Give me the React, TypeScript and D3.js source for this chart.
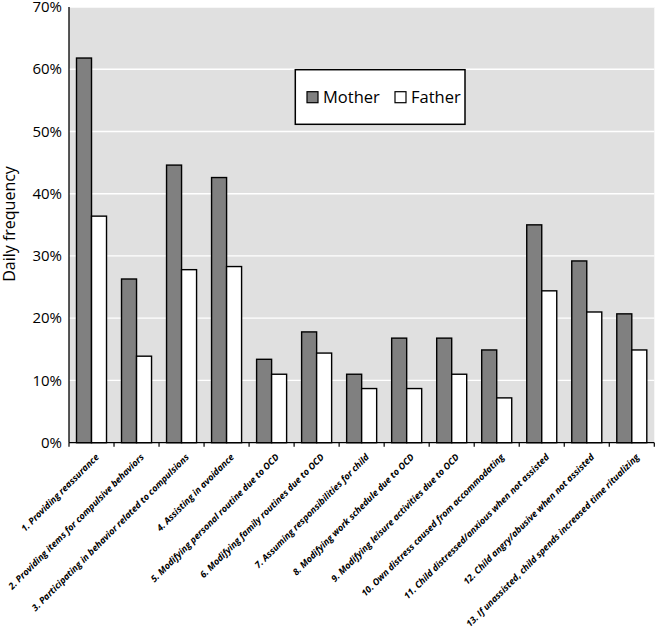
import React from "react";
import * as d3 from "d3";

const categories = [
  "1. Providing reassurance",
  "2. Providing items for compulsive behaviors",
  "3. Participating in behavior related to compulsions",
  "4. Assisting in avoidance",
  "5. Modifying personal routine due to OCD",
  "6. Modifying family routines due to OCD",
  "7. Assuming responsibilities for child",
  "8. Modifying work schedule due to OCD",
  "9. Modifying leisure activities due to OCD",
  "10. Own distress caused from accommodating",
  "11. Child distressed/anxious when not assisted",
  "12. Child angry/abusive when not assisted",
  "13. If unassisted, child spends increased time ritualizing",
];

const mother = [61.8, 26.3, 44.6, 42.6, 13.4, 17.8, 11.0, 16.8, 16.8, 14.9, 35.0, 29.2, 20.7];
const father = [36.4, 13.9, 27.8, 28.3, 11.0, 14.4, 8.7, 8.7, 11.0, 7.2, 24.4, 21.0, 14.9];

const seriesNames = ["Mother", "Father"];
const seriesColors = ["#808080", "#ffffff"];
const yTicks = [0, 10, 20, 30, 40, 50, 60, 70];

const W = 656;
const H = 628;
const plot = { left: 69, right: 654.3, top: 7, bottom: 442.7 };
const font = "'Open Sans', 'DejaVu Sans', sans-serif";

export default function App() {
  const x = d3
    .scaleBand<string>()
    .domain(categories)
    .range([plot.left, plot.right])
    .paddingInner(1 / 3)
    .paddingOuter(1 / 6);
  const step = x.step();
  const inner = d3.scaleBand<string>().domain(seriesNames).range([0, x.bandwidth()]);
  const y = d3.scaleLinear().domain([0, 70]).range([plot.bottom, plot.top]);

  const values = [mother, father];

  return (
    <svg
      width={W}
      height={H}
      style={{ position: "absolute", left: 0, top: 0, background: "#fff" }}
      fontFamily={font}
    >
      {/* plot background */}
      <rect
        x={plot.left}
        y={plot.top}
        width={plot.right - plot.left}
        height={plot.bottom - plot.top}
        fill="#e0e0e0"
      />
      {/* gridlines */}
      {yTicks.slice(1).map((t) => (
        <line
          key={t}
          x1={plot.left}
          x2={plot.right}
          y1={y(t)}
          y2={y(t)}
          stroke="#ffffff"
          strokeWidth={1.3}
        />
      ))}

      {/* bars */}
      {categories.map((c, i) => (
        <g key={c}>
          {seriesNames.map((s, j) => {
            const v = values[j][i];
            return (
              <rect
                key={s}
                x={(x(c) || 0) + (inner(s) || 0)}
                y={y(v)}
                width={inner.bandwidth()}
                height={y(0) - y(v)}
                fill={seriesColors[j]}
                stroke="#000"
                strokeWidth={1.4}
              />
            );
          })}
        </g>
      ))}

      {/* axes */}
      <line x1={plot.left} x2={plot.left} y1={plot.top} y2={plot.bottom} stroke="#000" strokeWidth={1.3} />
      <line x1={plot.left} x2={plot.right} y1={plot.bottom} y2={plot.bottom} stroke="#000" strokeWidth={1.3} />
      {d3.range(categories.length + 1).map((k) => (
        <line
          key={k}
          x1={plot.left + k * step}
          x2={plot.left + k * step}
          y1={plot.bottom}
          y2={plot.bottom + 4}
          stroke="#000"
          strokeWidth={1.2}
        />
      ))}

      {/* y tick labels */}
      {yTicks.map((t) => (
        <text
          key={t}
          x={62}
          y={y(t)}
          dy="0.35em"
          textAnchor="end"
          fontSize={15}
          fill="#000"
        >
          {t}%
        </text>
      ))}

      {/* y title */}
      <text
        transform={`translate(15,224) rotate(-90)`}
        textAnchor="middle"
        fontSize={16}
        fill="#000"
      >
        Daily frequency
      </text>

      {/* x labels */}
      {categories.map((c) => {
        const cx = (x(c) || 0) + x.bandwidth() / 2;
        return (
          <text
            key={c}
            transform={`translate(${cx + 8},${plot.bottom + 15}) rotate(-45)`}
            textAnchor="end"
            fontSize={9.1}
            fontStyle="italic"
            fontWeight={700}
            fill="#000"
          >
            {c}
          </text>
        );
      })}

      {/* legend */}
      <rect x={295.3} y={69.7} width={169.7} height={54.6} fill="#fff" stroke="#000" strokeWidth={1.5} />
      {seriesNames.map((s, j) => {
        const lx = [307, 395][j];
        return (
          <g key={s}>
            <rect x={lx} y={91.7} width={11} height={11} fill={seriesColors[j]} stroke="#000" strokeWidth={1.2} />
            <text x={lx + 16} y={102.8} fontSize={16.5} fill="#000">
              {s}
            </text>
          </g>
        );
      })}
    </svg>
  );
}
